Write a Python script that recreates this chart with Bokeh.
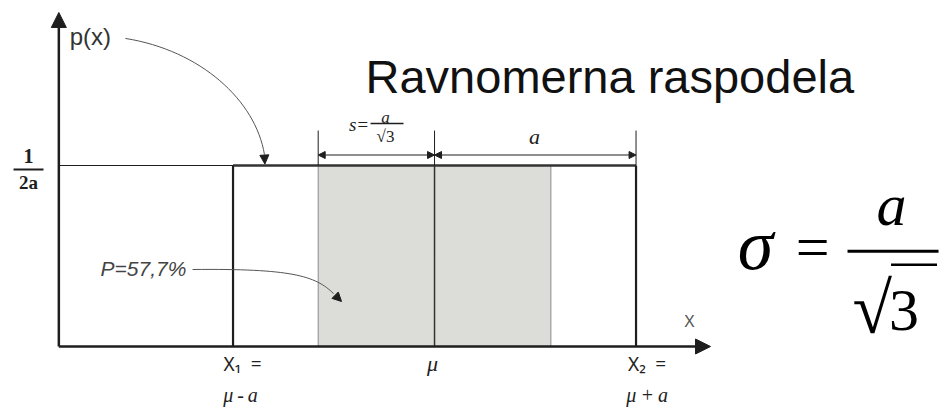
import numpy as np
from bokeh.plotting import figure
from bokeh.models import Range1d, Arrow, NormalHead, Label
from bokeh.embed import file_html
from bokeh.resources import INLINE

# Uniform distribution on [mu - a, mu + a]
mu = 0.0
a = 1.0
density = 1.0 / (2.0 * a)          # p(x) = 1/(2a)
s = a / np.sqrt(3.0)               # standard deviation
share_in_band = 2.0 * s * density  # probability mass inside mu ± s

bounds = [mu - a, mu + a]
band = [mu - s, mu + s]
dim_marks = [mu - s, mu, mu + a]
bottom_top_labels = ["X\u2081\u2002=", "\u03bc", "X\u2082\u2002="]
bottom_sub_labels = ["\u03bc\u2009-\u2009a", "", "\u03bc\u2009+\u2009a"]
title_text = "Ravnomerna raspodela"

SANS = "Liberation Sans"
SERIF = "Liberation Serif"
INK = "#1e1e1e"

p = figure(width=940, height=407, output_backend="svg", toolbar_location=None,
           x_axis_type=None, y_axis_type=None, min_border=0,
           x_range=Range1d(mu - 2.154 * a, mu + 2.511 * a),
           y_range=Range1d(-0.337 * density, 1.9116 * density))
p.grid.visible = False
p.outline_line_color = None
p.background_fill_color = "white"
p.border_fill_color = "white"

y_axis_x = mu - 1.8645 * a
x_axis_tip = mu + 1.3697 * a
y_axis_tip = 1.8454 * density

# shaded band mu ± s
p.quad(left=[band[0]], right=[band[1]], bottom=[0], top=[density],
       fill_color="#dcdcd8", line_color="#8a8a8a", line_width=1)

# density level line and top edge of the rectangle
p.segment(x0=[y_axis_x], y0=[density], x1=[bounds[0]], y1=[density],
          line_color=INK, line_width=1.2)
p.segment(x0=[bounds[0]], y0=[density], x1=[bounds[1]], y1=[density],
          line_color="#333333", line_width=2.4)

# rectangle sides and the centre line
p.segment(x0=bounds, y0=[0, 0], x1=bounds, y1=[density, density],
          line_color=INK, line_width=2.2)
p.segment(x0=[mu], y0=[0], x1=[mu], y1=[density],
          line_color="#333333", line_width=1.5)

# axes with arrow heads
p.add_layout(Arrow(end=NormalHead(size=15, fill_color=INK, line_color=INK),
                   x_start=y_axis_x, y_start=0, x_end=x_axis_tip, y_end=0,
                   line_color=INK, line_width=2.5))
p.add_layout(Arrow(end=NormalHead(size=15, fill_color=INK, line_color=INK),
                   x_start=y_axis_x, y_start=0, x_end=y_axis_x, y_end=y_axis_tip,
                   line_color=INK, line_width=2.5))

# dimension marks above the rectangle
dim_top = 1.193 * density
dim_y = 1.058 * density
p.segment(x0=dim_marks, y0=[density] * 3, x1=dim_marks, y1=[dim_top] * 3,
          line_color=INK, line_width=1)
for x0, x1 in [(dim_marks[0], dim_marks[1]), (dim_marks[1], dim_marks[2])]:
    p.add_layout(Arrow(start=NormalHead(size=7, fill_color=INK, line_color=INK),
                       end=NormalHead(size=7, fill_color=INK, line_color=INK),
                       x_start=x0, y_start=dim_y, x_end=x1, y_end=dim_y,
                       line_color=INK, line_width=1))


def label(x, y, text, size, font=SANS, style="normal", align="center",
          color=INK):
    p.add_layout(Label(x=x, y=y, text=text, text_font=font,
                       text_font_size=f"{size}px", text_font_style=style,
                       text_align=align, text_baseline="middle",
                       text_color=color))


# title
label(mu - 0.3424 * a, 1.4917 * density, title_text, 47, align="left",
      color="#111111")

# p(x) label and its leader
label(y_axis_x + 0.054 * a, 1.712 * density, "p(x)", 24, align="left",
      color="#333333")
p.bezier(x0=[-1.534], y0=[0.851], x1=[-0.844], y1=[0.53],
         cx0=[-1.161], cy0=[0.818], cx1=[-0.888], cy1=[0.68],
         line_color="#555555", line_width=1)
p.add_layout(Arrow(end=NormalHead(size=9, fill_color=INK, line_color=INK),
                   x_start=-0.846, y_start=0.545, x_end=-0.842, y_end=density + 0.004,
                   line_alpha=0))

# 1/(2a) on the vertical axis
label(mu - 2.015 * a, 1.05 * density, "1", 20, font=SERIF, style="bold")
p.segment(x0=[mu - 2.0893 * a], y0=[0.978 * density], x1=[mu - 1.9405 * a],
          y1=[0.978 * density], line_color=INK, line_width=2)
label(mu - 2.015 * a, 0.906 * density, "2a", 19, font=SERIF, style="bold")

# probability inside mu ± s
share_text = f"P={100 * share_in_band:.1f}%".replace(".", ",")
label(mu - 1.6576 * a, 0.431 * density, share_text, 21, style="italic",
      align="left", color="#444444")
p.bezier(x0=[-1.201], y0=[0.2127], x1=[-0.501], y1=[0.146],
         cx0=[-0.7146], cy0=[0.2155], cx1=[-0.5906], cy1=[0.196],
         line_color="#555555", line_width=1)
p.add_layout(Arrow(end=NormalHead(size=9, fill_color=INK, line_color=INK),
                   x_start=-0.51, y_start=0.151, x_end=-0.4615, y_end=0.1243,
                   line_alpha=0))

# s = a/sqrt(3) and a above the dimension lines
label(mu - 0.3747 * a, 1.2266 * density, "s=", 19, font=SERIF, style="italic")
label(mu - 0.2432 * a, 1.2652 * density, "a", 17, font=SERIF, style="italic")
p.segment(x0=[mu - 0.3176 * a], y0=[1.232 * density], x1=[mu - 0.1538 * a],
          y1=[1.232 * density], line_color=INK, line_width=1.5)
label(mu - 0.2432 * a, 1.1602 * density, "\u221a3", 17, font=SERIF)
label(mu + 0.4963 * a, 1.1602 * density, "a", 22, font=SERIF, style="italic")

# labels under the horizontal axis
top_xs = [bounds[0] + 0.047 * a, mu - 0.01 * a, bounds[1] + 0.055 * a]
for x, t in zip(top_xs, bottom_top_labels):
    if t.startswith("X"):
        label(x, -0.0994 * density, t, 19, font="Noto Sans", color="#222222")
    else:
        label(x, -0.094 * density, t, 22, font=SERIF, style="italic",
              color="#222222")
sub_xs = [bounds[0] + 0.037 * a, mu, bounds[1] + 0.055 * a]
for x, t in zip(sub_xs, bottom_sub_labels):
    if t:
        label(x, -0.2652 * density, t, 20, font=SERIF, style="italic",
              color="#222222")

label(x_axis_tip - 0.104 * a, 0.1436 * density, "X", 17, font="Noto Sans",
      color="#555555")

# sigma = a / sqrt(3)
label(mu + 1.593 * a, 0.560 * density, "\u03c3", 72, font=SERIF,
      style="italic", color="#000000")
label(mu + 1.876 * a, 0.549 * density, "=", 60, font=SERIF, color="#000000")
label(mu + 2.268 * a, 0.781 * density, "a", 60, font=SERIF, style="italic",
      color="#000000")
p.segment(x0=[mu + 2.0496 * a], y0=[0.5266 * density], x1=[mu + 2.5012 * a],
          y1=[0.5266 * density], line_color="#000000", line_width=3)
label(mu + 2.2705 * a, 0.207 * density, "\u221a", 72, font=SERIF,
      align="right", color="#000000")
label(mu + 2.330 * a, 0.201 * density, "3", 60, font=SERIF, color="#000000")
p.segment(x0=[mu + 2.2655 * a], y0=[0.451 * density], x1=[mu + 2.4938 * a],
          y1=[0.451 * density], line_color="#000000", line_width=2.5)

open("out.html", "w").write(file_html(p, INLINE))
